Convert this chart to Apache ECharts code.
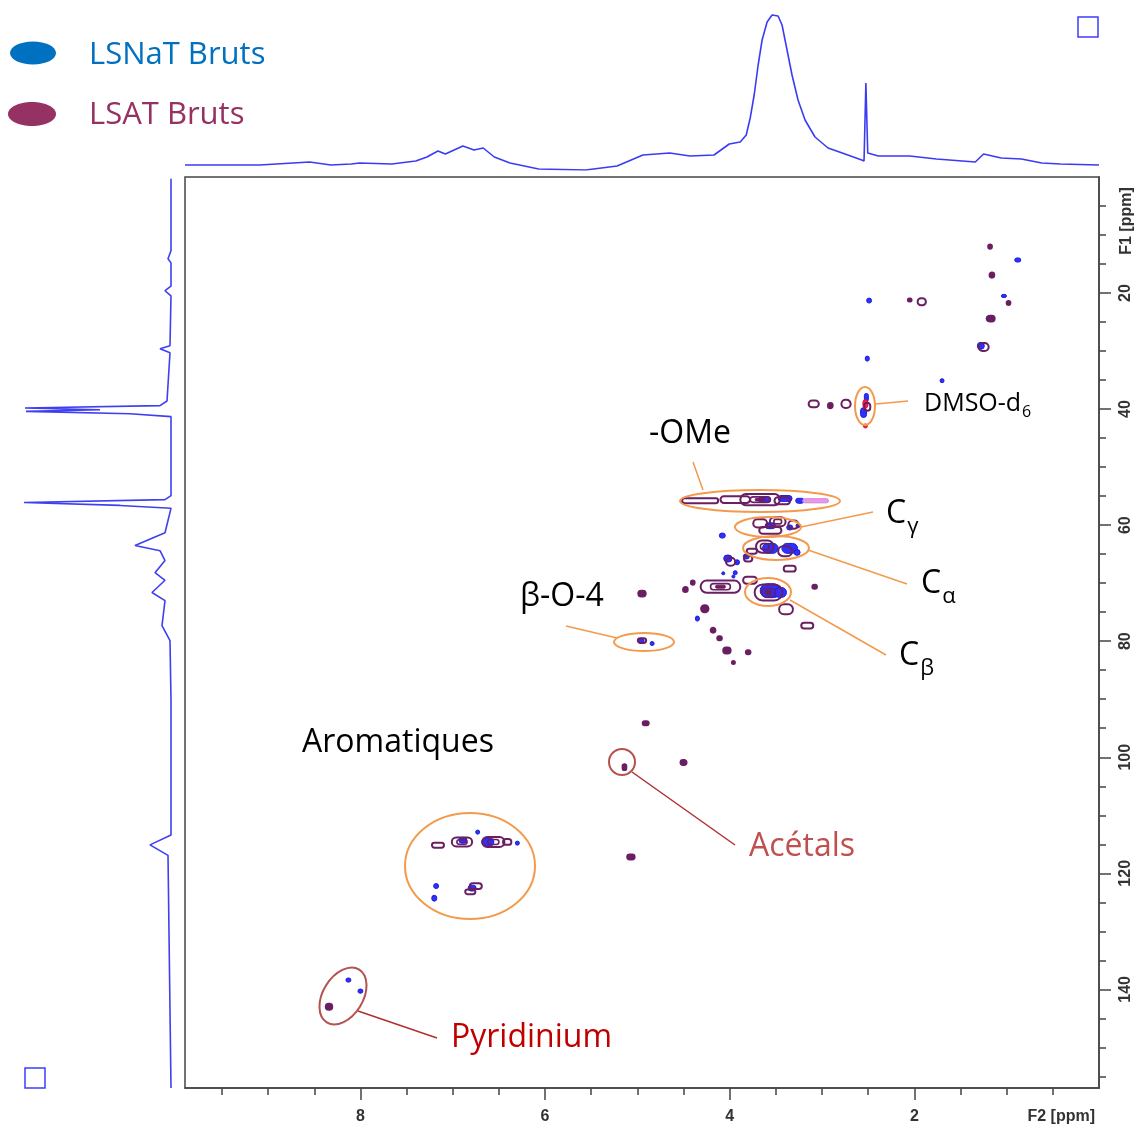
<!DOCTYPE html>
<html>
<head>
<meta charset="utf-8">
<title>HSQC LSNaT / LSAT Bruts</title>
<script src="https://cdn.jsdelivr.net/npm/echarts@6/dist/echarts.min.js"></script>
<style>
html, body { margin: 0; padding: 0; background: #fff; }
#hsqc { width: 1138px; height: 1128px; }
</style>
</head>
<body>
<div id="hsqc"></div>
<script>
/*----------------------------------------------- 刻度 ---------------------------------------------*/
var f2Major = [2, 4, 6, 8];
var f2Minor = [0.5, 1, 1.5, 2.5, 3, 3.5, 4.5, 5, 5.5, 6.5, 7, 7.5, 8.5, 9, 9.5];
var f1Major = [20, 40, 60, 80, 100, 120, 140];
var f1Minor = [5, 10, 15, 25, 30, 35, 45, 50, 55, 65, 70, 75, 85, 90, 95, 105, 110, 115, 125, 130, 135, 145, 150, 155];

/*----------------------------------------------- 1H projection (top) ---------------------------------------------*/
var topPpm = [9.9, 9.09, 9.07, 8.55, 8.32, 8.10, 8.01, 7.66, 7.40, 7.28, 7.16, 7.08, 6.89, 6.77, 6.67, 6.55, 6.38, 6.07, 5.56, 5.22,
    4.94, 4.65, 4.43, 4.17, 4.005, 3.886, 3.821, 3.778, 3.735, 3.692, 3.649, 3.595, 3.541, 3.476, 3.433, 3.379, 3.325, 3.260, 3.184, 3.076,
    2.935, 2.751, 2.57, 2.545, 2.525, 2.505, 2.39, 2.05, 1.76, 1.34, 1.25, 1.06, 0.84, 0.62, 0.42, 0.0];
var topInt = [5, 5, 6.7, 8, 5, 6, 7, 6, 9, 13, 19, 16, 24, 20, 22, 13, 7, 1, 0, 4,
    15, 17, 14, 15, 26, 28, 35, 52, 75, 105, 130, 148, 155, 154, 145, 120, 95, 70, 50, 33,
    22, 16, 10, 9, 87, 17, 14, 14, 11, 8, 16, 12, 11, 7, 6, 5];

/*----------------------------------------------- 13C projection (left) ---------------------------------------------*/
var leftPpm = [0.3, 12.7, 14.1, 14.8, 18.8, 19.6, 20.5, 29.1, 29.6, 30.3, 38.6, 39.4, 39.8, 40.1, 40.4, 40.8, 41.3, 54.9, 55.6, 56.1,
    56.6, 57.1, 59.2, 61.3, 63.5, 64.4, 66.1, 68.2, 69.5, 71.6, 73.0, 77.3, 79.9, 90.2, 113.4, 115.1, 116.9, 157];
var leftInt = [1, 1, 4, 1, 1, 7, 1, 2, 12, 2, 5, 12, 147, 72, 146, 42, 1, 1, 7, 148,
    52, 1, 4, 7, 37, 12, 7, 17, 7, 20, 7, 10, 2, 1, 1, 22, 4, 1];

/*----------------------------------------------- cross peaks [F2, F1, largeur F2, largeur F1] ---------------------------------------------*/
var lsnatPeaks = [
    [0.88, 14.3, 0.065, 0.7], [1.03, 20.5, 0.054, 0.5], [2.49, 21.3, 0.054, 0.86], [1.19, 24.4, 0.065, 1.0],
    [1.28, 29.1, 0.076, 1.2], [2.51, 31.3, 0.043, 0.86], [1.70, 35.1, 0.043, 0.7], [2.52, 38.0, 0.043, 1.4],
    [2.55, 40.6, 0.065, 1.7], [3.62, 55.6, 0.13, 1.0], [3.40, 55.4, 0.15, 1.0], [3.24, 55.8, 0.09, 0.86],
    [3.56, 60.1, 0.11, 1.0], [3.35, 60.4, 0.065, 0.86], [3.26, 60.1, 0.043, 0.7], [3.56, 64.0, 0.17, 1.7],
    [3.35, 64.0, 0.17, 1.7], [3.27, 64.7, 0.065, 1.0], [4.08, 61.8, 0.065, 0.86], [4.02, 65.75, 0.09, 1.2],
    [3.82, 65.4, 0.065, 0.86], [4.07, 68.3, 0.032, 0.5], [3.96, 68.85, 0.032, 0.5], [3.92, 66.4, 0.054, 0.86],
    [3.56, 71.3, 0.22, 2.4], [3.45, 71.6, 0.13, 1.7], [4.35, 76.1, 0.043, 0.86], [3.94, 68.2, 0.043, 0.7],
    [4.96, 79.9, 0.065, 0.7], [4.84, 80.4, 0.043, 0.7], [5.14, 101.55, 0.032, 0.7], [6.73, 112.9, 0.043, 0.7],
    [6.62, 114.6, 0.13, 1.4], [6.89, 114.3, 0.087, 1.0], [6.30, 114.8, 0.043, 0.7], [7.18, 122.2, 0.054, 0.86],
    [7.20, 124.3, 0.054, 1.0], [6.79, 122.55, 0.087, 1.0], [8.13, 138.4, 0.054, 0.7], [8.00, 140.3, 0.054, 0.7]
];
var lsatPeaks = [
    [1.18, 12.0, 0.04, 0.7], [1.16, 16.9, 0.05, 0.9], [0.98, 21.7, 0.04, 0.7], [2.05, 21.2, 0.04, 0.5],
    [1.92, 21.5, 0.09, 1.2], [1.17, 24.4, 0.08, 1.0], [1.25, 29.3, 0.11, 1.4], [3.09, 39.1, 0.11, 1.2],
    [2.91, 39.4, 0.05, 0.9], [2.74, 39.1, 0.10, 1.4], [2.51, 39.6, 0.065, 1.4],
    [4.32, 55.8, 0.39, 0.86], [3.94, 55.6, 0.32, 1.2], [3.67, 55.6, 0.43, 1.9], [3.43, 55.8, 0.17, 1.2],
    [3.67, 59.7, 0.15, 1.4], [3.48, 59.4, 0.17, 1.55], [3.31, 59.9, 0.11, 1.4], [3.56, 60.9, 0.24, 1.2],
    [3.62, 63.7, 0.19, 2.1], [3.40, 64.5, 0.15, 1.7], [3.76, 64.5, 0.11, 0.86], [3.80, 65.75, 0.09, 1.0],
    [3.99, 66.3, 0.10, 1.4], [4.10, 70.6, 0.43, 2.1], [3.78, 69.5, 0.15, 1.2], [3.58, 71.6, 0.30, 2.75],
    [3.35, 67.5, 0.13, 1.0], [3.08, 70.6, 0.05, 0.7], [4.40, 69.9, 0.04, 0.7], [4.48, 71.1, 0.05, 0.86],
    [4.27, 74.4, 0.08, 1.2], [3.39, 74.5, 0.15, 1.7], [3.16, 77.3, 0.13, 1.0], [4.18, 78.1, 0.05, 0.86],
    [4.11, 79.5, 0.05, 0.7], [4.03, 81.6, 0.08, 1.0], [3.80, 81.9, 0.05, 0.7], [3.96, 83.65, 0.03, 0.5],
    [4.95, 71.8, 0.08, 1.0], [4.95, 79.9, 0.09, 0.86], [4.91, 94.15, 0.065, 0.7], [5.14, 101.7, 0.04, 1.0],
    [4.50, 100.9, 0.065, 0.86], [5.07, 117.2, 0.08, 0.86], [7.16, 115.15, 0.13, 0.86], [6.90, 114.6, 0.22, 1.55],
    [6.56, 114.6, 0.24, 1.7], [6.41, 114.6, 0.09, 1.0], [6.75, 122.2, 0.13, 1.0], [6.81, 123.2, 0.11, 0.86],
    [8.34, 143.0, 0.07, 1.0]
];
var dmsoPeaks = [[2.53, 39.1, 0.054, 1.4], [2.53, 42.9, 0.043, 0.7]];
var omeTail = [[3.07, 55.8, 0.28, 0.7]];

/*----------------------------------------------- 绘制 ---------------------------------------------*/
function zip(a, b) {
    var out = [];
    for (var i = 0; i < a.length; i++) {
        out.push([a[i], b[i]]);
    }
    return out;
}

// contour blob drawn from peak centre and width through the axes
function blob(fill, stroke, hollow) {
    return function (params, api) {
        var c = api.coord([api.value(0), api.value(1)]);
        var s = api.size([api.value(2), api.value(3)], [api.value(0), api.value(1)]);
        var w = Math.max(s[0], 3), h = Math.max(s[1], 3);
        var small = w < 7.5 && h < 7.5;
        var children = [{
            type: 'rect',
            shape: {x: c[0] - w / 2, y: c[1] - h / 2, width: w, height: h, r: Math.min(w, h) / 2},
            style: {fill: (hollow && !small) ? 'none' : fill, stroke: stroke, lineWidth: hollow ? 2 : 1}
        }];
        // nested contour levels
        if (hollow && w > 14 && h > 8) {
            children.push({
                type: 'rect',
                shape: {x: c[0] - w / 4, y: c[1] - h / 4, width: w / 2, height: h / 2, r: Math.min(w, h) / 4},
                style: {fill: 'none', stroke: stroke, lineWidth: 1.6}
            });
        }
        if (hollow && w > 24 && h > 11) {
            children.push({
                type: 'rect',
                shape: {x: c[0] - w / 8, y: c[1] - h / 8, width: w / 4, height: h / 4, r: Math.min(w, h) / 8},
                style: {fill: stroke, stroke: stroke, lineWidth: 1}
            });
        }
        return {type: 'group', children: children};
    };
}

function blobSeries(name, data, fill, stroke, hollow, z) {
    return {
        name: name,
        type: 'custom',
        xAxisIndex: 0,
        yAxisIndex: 0,
        renderItem: blob(fill, stroke, hollow),
        encode: {x: 0, y: 1},
        clip: true,
        z: z,
        data: data
    };
}

var tickFont = {color: '#333', fontFamily: 'Liberation Sans', fontWeight: 'bold', fontSize: 16};
var ORANGE = '#f39a4c';
var DARKRED = '#b5524f';
var measureCtx = document.createElement('canvas').getContext('2d');

function textWidth(s, font) {
    measureCtx.font = font;
    return measureCtx.measureText(s).width;
}

function annotations() {
    var g = [];
    function ell(cx, cy, rx, ry, color) {
        g.push({type: 'ellipse', shape: {cx: cx, cy: cy, rx: rx, ry: ry}, style: {fill: 'none', stroke: color, lineWidth: 2}, z: 10});
    }
    function seg(x1, y1, x2, y2, color) {
        g.push({type: 'line', shape: {x1: x1, y1: y1, x2: x2, y2: y2}, style: {stroke: color, lineWidth: 1.5}, z: 10});
    }
    function txt(s, x, y, size, color) {
        g.push({type: 'text', x: x, y: y, z: 10, style: {text: s, fill: color, font: size + 'px "Open Sans"', textAlign: 'left', textVerticalAlign: 'middle'}});
    }
    // main text followed by a subscript
    function sub(s, subS, x, y, size, subSize, drop) {
        txt(s, x, y, size, '#000');
        txt(subS, x + textWidth(s, size + 'px "Open Sans"') + 1, y + drop, subSize, '#000');
    }
    // legend
    g.push({type: 'ellipse', shape: {cx: 33, cy: 53, rx: 23, ry: 11.5}, style: {fill: '#0070c0'}});
    g.push({type: 'ellipse', shape: {cx: 32, cy: 114, rx: 24, ry: 12}, style: {fill: '#953163'}});
    txt('LSNaT Bruts', 89, 55, 31, '#0070c0');
    txt('LSAT Bruts', 89, 115, 31, '#953163');
    // topspin squares
    g.push({type: 'rect', shape: {x: 1078, y: 17, width: 20, height: 20}, style: {fill: 'none', stroke: '#3d3dff', lineWidth: 1.5}});
    g.push({type: 'rect', shape: {x: 25, y: 1068, width: 20, height: 20}, style: {fill: 'none', stroke: '#3d3dff', lineWidth: 1.5}});
    // axis names
    g.push({type: 'text', x: 1127, y: 221, rotation: Math.PI / 2, style: {text: 'F1 [ppm]', fill: '#333', font: 'bold 16px "Liberation Sans"', textAlign: 'center', textVerticalAlign: 'middle'}});
    g.push({type: 'text', x: 1095, y: 1117, style: {text: 'F2 [ppm]', fill: '#333', font: 'bold 16px "Liberation Sans"', textAlign: 'right', textVerticalAlign: 'middle'}});
    // DMSO
    ell(865, 406, 10, 19, ORANGE);
    seg(876, 404, 908, 401, ORANGE);
    sub('DMSO-d', '6', 924, 404, 25, 16, 8);
    // OMe
    ell(760, 501, 80, 11, ORANGE);
    seg(703, 490, 693, 462, ORANGE);
    txt('-OMe', 649, 434, 32, '#000');
    // C gamma
    ell(768, 527, 33, 10, ORANGE);
    seg(801, 527, 873, 512, ORANGE);
    sub('C', 'γ', 886, 514, 32, 22, 13);
    // C alpha
    ell(776, 548, 33, 12, ORANGE);
    seg(808, 550, 907, 584, ORANGE);
    sub('C', 'α', 921, 584, 32, 22, 13);
    // C beta
    ell(768, 592, 23, 14, ORANGE);
    seg(790, 600, 886, 655, ORANGE);
    sub('C', 'β', 899, 656, 32, 22, 13);
    // beta-O-4
    ell(644, 642, 30, 9, ORANGE);
    seg(566, 626, 617, 638, ORANGE);
    txt('β-O-4', 520, 597, 32, '#000');
    // aromatiques
    ell(470, 866, 65, 53, ORANGE);
    txt('Aromatiques', 302, 743, 32, '#000');
    // acetals
    ell(622, 762, 13, 13, DARKRED);
    seg(632, 772, 735, 845, '#b03030');
    txt('Acétals', 749, 847, 32, '#c0504d');
    // pyridinium
    g.push({type: 'ellipse', x: 343, y: 996, rotation: -0.55, shape: {cx: 0, cy: 0, rx: 20, ry: 31}, style: {fill: 'none', stroke: DARKRED, lineWidth: 2}, z: 10});
    seg(358, 1011, 437, 1038, '#b03030');
    txt('Pyridinium', 451, 1038, 32, '#c00000');
    return g;
}

function hsqcOption() {
    var option = {
        animation: false,
        backgroundColor: '#fff',
        grid: [
            {left: 185, right: 39, top: 177, bottom: 40, show: true, borderColor: '#444', borderWidth: 1.5, backgroundColor: 'transparent'},
            {left: 185, right: 39, top: 0, height: 170},
            {left: 0, width: 172, top: 177, bottom: 40},
            // same box as the main grid, only for the minor ticks
            {left: 185, right: 39, top: 177, bottom: 40}
        ],
        xAxis: [{
            gridIndex: 0, type: 'value', position: 'bottom', inverse: true, min: 0, max: 9.9,
            axisLine: {show: true, onZero: false, lineStyle: {color: '#444', width: 1.5}},
            axisTick: {show: true, length: 12, customValues: f2Major, lineStyle: {color: '#444', width: 1.5}},
            axisLabel: {show: true, margin: 21, customValues: f2Major, formatter: function (v) { return String(v); }, textStyle: tickFont},
            splitLine: {show: false}
        }, {
            gridIndex: 1, type: 'value', inverse: true, min: 0, max: 9.9, show: false
        }, {
            gridIndex: 2, type: 'value', inverse: true, min: 0, max: 172, show: false
        }, {
            gridIndex: 3, type: 'value', position: 'bottom', inverse: true, min: 0, max: 9.9,
            axisLine: {show: false, onZero: false},
            axisTick: {show: true, length: 7, customValues: f2Minor, lineStyle: {color: '#444', width: 1.5}},
            axisLabel: {show: false},
            splitLine: {show: false}
        }],
        yAxis: [{
            gridIndex: 0, type: 'value', position: 'right', inverse: true, min: 0, max: 157,
            axisLine: {show: true, onZero: false, lineStyle: {color: '#444', width: 1.5}},
            axisTick: {show: true, length: 12, customValues: f1Major, lineStyle: {color: '#444', width: 1.5}},
            axisLabel: {show: true, rotate: 90, margin: 19, customValues: f1Major, formatter: function (v) { return String(v); }, textStyle: tickFont},
            splitLine: {show: false}
        }, {
            gridIndex: 1, type: 'value', min: 0, max: 170, show: false
        }, {
            gridIndex: 2, type: 'value', inverse: true, min: 0, max: 157, show: false
        }, {
            gridIndex: 3, type: 'value', position: 'right', inverse: true, min: 0, max: 157,
            axisLine: {show: false, onZero: false},
            axisTick: {show: true, length: 7, customValues: f1Minor, lineStyle: {color: '#444', width: 1.5}},
            axisLabel: {show: false},
            splitLine: {show: false}
        }],
        series: [{
            name: 'projection F2',
            type: 'line',
            xAxisIndex: 1,
            yAxisIndex: 1,
            showSymbol: false,
            lineStyle: {color: '#3b3bf5', width: 1.6},
            data: zip(topPpm, topInt)
        }, {
            name: 'projection F1',
            type: 'line',
            xAxisIndex: 2,
            yAxisIndex: 2,
            showSymbol: false,
            lineStyle: {color: '#3f3ff2', width: 1.6},
            data: zip(leftInt, leftPpm)
        },
            blobSeries('LSNaT Bruts', lsnatPeaks, '#2f2fff', '#1d1dd6', false, 2),
            blobSeries('DMSO', dmsoPeaks, '#ff1a4a', '#e0103a', false, 2),
            blobSeries('OMe tail', omeTail, '#e69ae8', '#d77ed9', false, 2),
            blobSeries('LSAT Bruts', lsatPeaks, '#6a1f62', '#6a1f62', true, 3)
        ],
        graphic: annotations()
    };
    return option;
}

var hsqcChart = echarts.init(document.getElementById('hsqc'));
hsqcChart.setOption(hsqcOption());
</script>
</body>
</html>
